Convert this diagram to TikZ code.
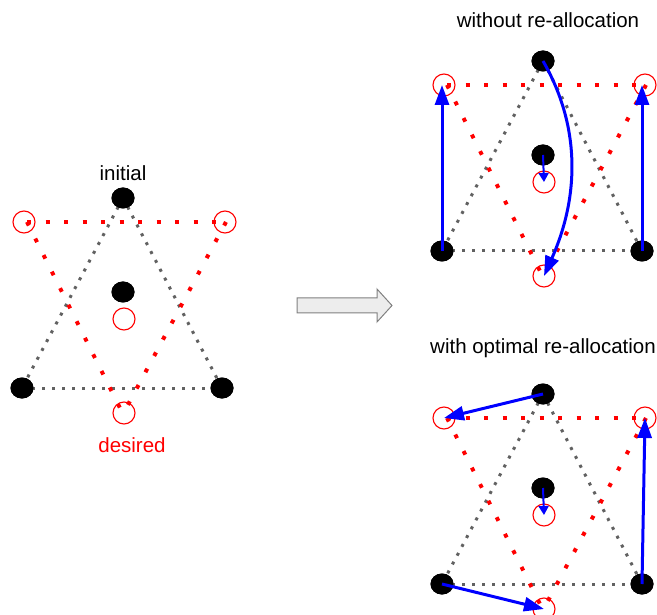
\documentclass[tikz,border=0pt]{standalone}
\usepackage{fontspec}
\setmainfont{Liberation Sans}
\usetikzlibrary{shapes.geometric,arrows.meta}
\tikzset{
  blackdot/.style={ellipse, fill=black, minimum width=23pt, minimum height=21pt, inner sep=0pt},
  redring/.style={circle, draw=red, line width=1.1pt, minimum size=22pt, inner sep=0pt},
  reddots/.style={draw=red, line width=4pt, dash pattern=on 4pt off 14.5pt},
  graydots/.style={draw=black!62, line width=3pt, dash pattern=on 3pt off 7pt},
  movearrow/.style={draw=blue, line width=3pt, -{Triangle[length=20pt,width=14pt]}},
  smallarrow/.style={draw=blue, line width=2pt, -{Triangle[length=9pt,width=10pt]}},
  label/.style={font=\fontsize{20.5}{24}\selectfont, inner sep=0pt},
  blockarrow/.style={draw=black!50, fill=black!7, line width=1pt, line join=miter},
}
\newcommand\stardiagram[3]{%
  \begin{scope}[shift={(#2,#3)}]
    \coordinate (#1vtl) at (27,222);
    \coordinate (#1vtr) at (226,222);
    \coordinate (#1vb) at (123,414);
    \node[blackdot] (#1top) at (123,198) {};
    \node[blackdot] (#1mid) at (123,292) {};
    \node[blackdot] (#1bl) at (22,388) {};
    \node[blackdot] (#1br) at (222,388) {};
    \node[redring] (#1tl) at (24,222) {};
    \node[redring] (#1tr) at (225,222) {};
    \node[redring] (#1b) at (124,413) {};
    \node[redring] (#1ring) at (124,319) {};
    \draw[graydots] (#1top.center) -- (#1bl.center);
    \draw[graydots] (#1top.center) -- (#1br.center);
    \draw[graydots] (#1bl.center) -- (#1br.center);
    \draw[reddots] (#1vtl) -- (#1vtr);
    \draw[reddots] (#1vtl) -- (#1vb);
    \draw[reddots] (#1vtr) -- (#1vb);
    \node[blackdot] at (#1top) {};
    \node[blackdot] at (#1mid) {};
    \node[blackdot] at (#1bl) {};
    \node[blackdot] at (#1br) {};
  \end{scope}%
}
\begin{document}
\begin{tikzpicture}[x=1pt,y=-1pt]
\useasboundingbox (0,0) rectangle (657,615);

\stardiagram{L}{0}{0}
\node[label] (initial) at (123,173) {initial};
\node[label, text=red] (desired) at (132,445) {desired};

\draw[blockarrow] (297,298) -- (377,298) -- (377,289) -- (392,305.5) -- (377,322) -- (377,313) -- (297,313) -- cycle;

\node[label] (without) at (548,20) {without re-allocation};
\stardiagram{A}{420}{-137}
\draw[movearrow] (Abl.center) -- (Abl.center |- Atl.center);
\draw[movearrow] (Abr.center) -- (Abr.center |- Atr.center);
\draw[movearrow] (Atop.center) .. controls (580,125) and (580,195) .. (Ab.center);
\draw[smallarrow] (Amid.center) -- (Aring.center);

\node[label] (withopt) at (543,348) {with optimal re-allocation};
\stardiagram{B}{420}{196}
\draw[movearrow] (Btop.center) -- (Btl.center);
\draw[movearrow] (Bbl.center) -- (Bb.center);
\draw[movearrow] (Bbr.center) -- (Btr.center);
\draw[smallarrow] (Bmid.center) -- (Bring.center);
\end{tikzpicture}
\end{document}
